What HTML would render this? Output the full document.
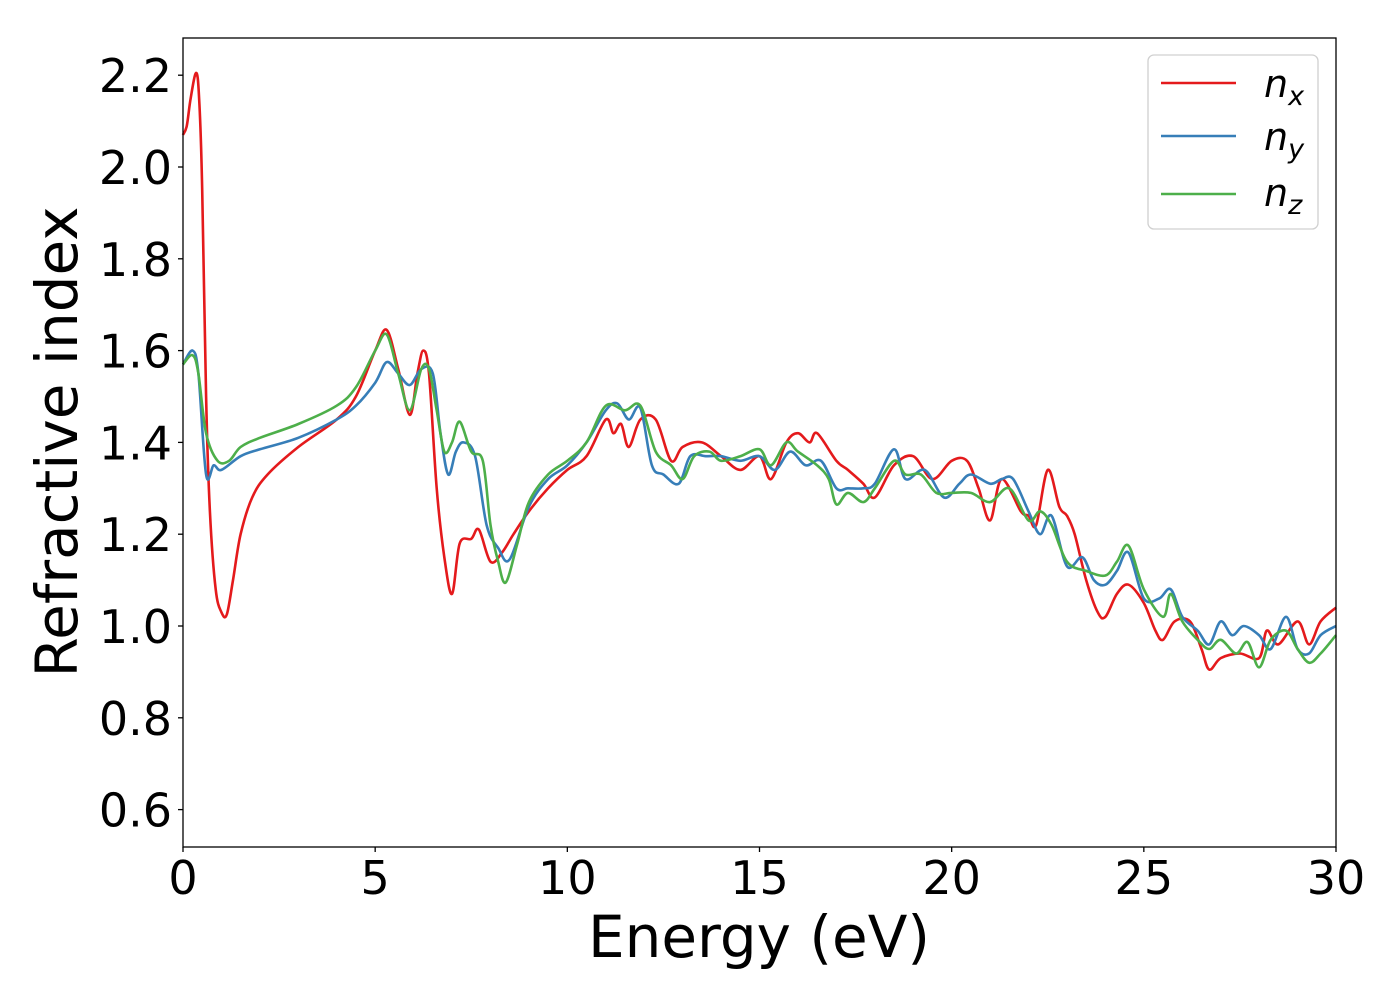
<!DOCTYPE html>
<html><head><meta charset="utf-8"><style>
body{margin:0;background:#fff;}
svg text{font-family:"DejaVu Sans","Liberation Sans",sans-serif;fill:#000;}
</style></head><body>
<svg id="chart" width="1400" height="1000" xmlns="http://www.w3.org/2000/svg">
<rect x="0" y="0" width="1400" height="1000" fill="#fff"/>
<g id="series"></g>
<rect x="183" y="38" width="1153" height="809" fill="none" stroke="#000" stroke-width="1.3"/>
<g id="xticks"></g><g id="yticks"></g>
<text x="759" y="957" font-size="58" text-anchor="middle">Energy (eV)</text>
<text transform="translate(77,442) rotate(-90)" font-size="58" text-anchor="middle">Refractive index</text>
<g>
<rect x="1148" y="55" width="170" height="174" rx="6" fill="#fff" fill-opacity="0.8" stroke="#d0d0d0" stroke-width="1.3"/>
<line x1="1161" y1="83" x2="1236" y2="83" stroke="#e41a1c" stroke-width="2.5"/>
<line x1="1161" y1="136" x2="1236" y2="136" stroke="#377eb8" stroke-width="2.5"/>
<line x1="1161" y1="194" x2="1236" y2="194" stroke="#4daf4a" stroke-width="2.5"/>
<text x="1264" y="97" font-size="38" font-style="italic">n<tspan font-size="27" dy="8">x</tspan></text>
<text x="1264" y="150" font-size="38" font-style="italic">n<tspan font-size="27" dy="8">y</tspan></text>
<text x="1264" y="206" font-size="38" font-style="italic">n<tspan font-size="27" dy="8">z</tspan></text>
</g>
</svg>
<script>
const xTicks=[0,5,10,15,20,25,30];
const yTicks=[0.6,0.8,1.0,1.2,1.4,1.6,1.8,2.0,2.2];
const nxE=[0,0.1,0.2,0.34,0.42,0.5,0.6,0.7,0.85,1.0,1.14,1.3,1.5,1.8,2.2,3,4,4.5,5,5.3,5.6,5.9,6.1,6.25,6.4,6.6,6.8,7.0,7.2,7.5,7.7,8.0,8.3,8.6,9,9.5,10,10.5,11,11.2,11.4,11.6,11.9,12.3,12.7,13,13.5,14,14.5,15,15.3,15.7,16,16.3,16.5,17,17.3,17.7,18,18.5,19,19.5,20,20.4,20.7,21,21.3,21.8,22,22.2,22.5,22.8,23,23.2,23.5,23.8,24,24.3,24.6,25,25.3,25.5,25.8,26.2,26.5,26.7,27,27.5,28,28.2,28.5,29,29.3,29.6,30];
const nxV=[2.07,2.09,2.15,2.205,2.15,1.95,1.5,1.25,1.08,1.03,1.025,1.1,1.2,1.28,1.33,1.39,1.45,1.5,1.6,1.645,1.56,1.46,1.55,1.6,1.55,1.3,1.15,1.07,1.18,1.19,1.21,1.14,1.16,1.2,1.25,1.3,1.34,1.37,1.45,1.42,1.44,1.39,1.45,1.45,1.36,1.39,1.40,1.37,1.34,1.37,1.32,1.40,1.42,1.40,1.42,1.36,1.34,1.31,1.28,1.35,1.37,1.32,1.36,1.36,1.30,1.23,1.32,1.25,1.24,1.22,1.34,1.26,1.24,1.20,1.10,1.03,1.02,1.07,1.09,1.05,0.99,0.97,1.01,1.01,0.95,0.905,0.93,0.94,0.93,0.99,0.96,1.01,0.96,1.01,1.04];
const nyE=[0,0.25,0.4,0.6,0.8,1,1.5,2,3,4,4.5,5,5.3,5.6,5.9,6.2,6.5,6.7,6.9,7.1,7.3,7.6,7.9,8.2,8.5,9,9.5,10,10.5,11,11.3,11.6,11.9,12.2,12.5,12.9,13.2,13.6,14,14.5,15,15.4,15.8,16.2,16.6,17,17.3,17.7,18,18.5,18.8,19.3,19.8,20.2,20.5,21,21.3,21.6,22,22.3,22.6,23,23.4,23.7,24,24.3,24.6,25,25.4,25.7,26,26.4,26.7,27,27.3,27.6,28,28.3,28.7,29,29.3,29.6,30];
const nyV=[1.57,1.60,1.55,1.33,1.35,1.34,1.37,1.385,1.41,1.45,1.48,1.53,1.575,1.55,1.525,1.56,1.55,1.42,1.33,1.38,1.40,1.37,1.22,1.17,1.145,1.26,1.32,1.35,1.40,1.47,1.485,1.45,1.475,1.35,1.33,1.31,1.37,1.37,1.37,1.36,1.37,1.34,1.38,1.35,1.36,1.30,1.30,1.30,1.31,1.385,1.32,1.34,1.28,1.31,1.33,1.31,1.32,1.32,1.25,1.20,1.24,1.13,1.15,1.10,1.09,1.12,1.16,1.06,1.06,1.08,1.02,0.99,0.96,1.01,0.98,1.00,0.98,0.95,1.02,0.95,0.94,0.98,1.00];
const nzE=[0,0.25,0.4,0.6,0.9,1.2,1.5,2,3,4,4.5,5,5.3,5.6,5.9,6.2,6.4,6.6,6.8,7.0,7.2,7.5,7.8,8.0,8.2,8.4,8.7,9,9.5,10,10.5,11,11.5,11.9,12.3,12.7,13,13.3,13.7,14,14.5,15,15.3,15.7,16,16.5,16.8,17,17.3,17.7,18,18.5,18.8,19.2,19.6,20,20.5,21,21.5,22,22.3,22.6,23,23.5,24,24.3,24.6,25,25.5,25.7,26,26.4,26.7,27,27.4,27.7,28,28.3,28.7,29,29.3,29.6,30];
const nzV=[1.57,1.59,1.55,1.42,1.36,1.36,1.39,1.41,1.44,1.48,1.52,1.60,1.635,1.55,1.47,1.56,1.56,1.47,1.38,1.40,1.445,1.38,1.36,1.22,1.14,1.095,1.18,1.27,1.33,1.36,1.40,1.48,1.47,1.48,1.38,1.35,1.32,1.37,1.38,1.36,1.37,1.385,1.35,1.40,1.38,1.35,1.32,1.265,1.29,1.27,1.30,1.36,1.33,1.33,1.29,1.29,1.29,1.27,1.30,1.23,1.25,1.22,1.14,1.12,1.11,1.14,1.175,1.08,1.02,1.07,1.01,0.97,0.95,0.97,0.94,0.965,0.91,0.97,0.99,0.95,0.92,0.94,0.98];

const X=e=>183+e*(1153/30);
const Y=v=>626-(v-1.0)*459;
const NS='http://www.w3.org/2000/svg';
function smooth(es,vs){
  const p=es.map((e,i)=>[X(e),Y(vs[i])]);
  let d='M'+p[0][0].toFixed(1)+','+p[0][1].toFixed(1);
  for(let i=0;i<p.length-1;i++){
    const p0=p[Math.max(0,i-1)],p1=p[i],p2=p[i+1],p3=p[Math.min(p.length-1,i+2)];
    const c1=[p1[0]+(p2[0]-p0[0])/6,p1[1]+(p2[1]-p0[1])/6];
    const c2=[p2[0]-(p3[0]-p1[0])/6,p2[1]-(p3[1]-p1[1])/6];
    d+='C'+c1.map(n=>n.toFixed(1))+' '+c2.map(n=>n.toFixed(1))+' '+p2.map(n=>n.toFixed(1));
  }
  return d;
}
const g=document.getElementById('series');
[[nxE,nxV,'#e41a1c','series-nx'],[nyE,nyV,'#377eb8','series-ny'],[nzE,nzV,'#4daf4a','series-nz']].forEach(s=>{
  const path=document.createElementNS(NS,'path');
  path.setAttribute('d',smooth(s[0],s[1]));
  path.setAttribute('fill','none');path.setAttribute('stroke',s[2]);path.setAttribute('stroke-width','2.6');
  path.setAttribute('stroke-linejoin','round');
  
  
  g.appendChild(path);
});
const xt=document.getElementById('xticks');
xTicks.forEach(t=>{
  const l=document.createElementNS(NS,'line');
  l.setAttribute('x1',X(t));l.setAttribute('x2',X(t));l.setAttribute('y1',847);l.setAttribute('y2',852);l.setAttribute('stroke','#000');l.setAttribute('stroke-width','1.3');
  
  
  xt.appendChild(l);
  const tx=document.createElementNS(NS,'text');
  tx.setAttribute('x',X(t));tx.setAttribute('y',894);tx.setAttribute('font-size','46');tx.setAttribute('text-anchor','middle');
  tx.textContent=t;
  
  
  xt.appendChild(tx);
});
const yt=document.getElementById('yticks');
yTicks.forEach(t=>{
  const l=document.createElementNS(NS,'line');
  l.setAttribute('x1',178);l.setAttribute('x2',183);l.setAttribute('y1',Y(t));l.setAttribute('y2',Y(t));l.setAttribute('stroke','#000');l.setAttribute('stroke-width','1.3');
  
  
  yt.appendChild(l);
  const tx=document.createElementNS(NS,'text');
  tx.setAttribute('x',172);tx.setAttribute('y',Y(t)+17);tx.setAttribute('font-size','46');tx.setAttribute('text-anchor','end');
  tx.textContent=t.toFixed(1);
  
  
  yt.appendChild(tx);
});
</script>
</body></html>
